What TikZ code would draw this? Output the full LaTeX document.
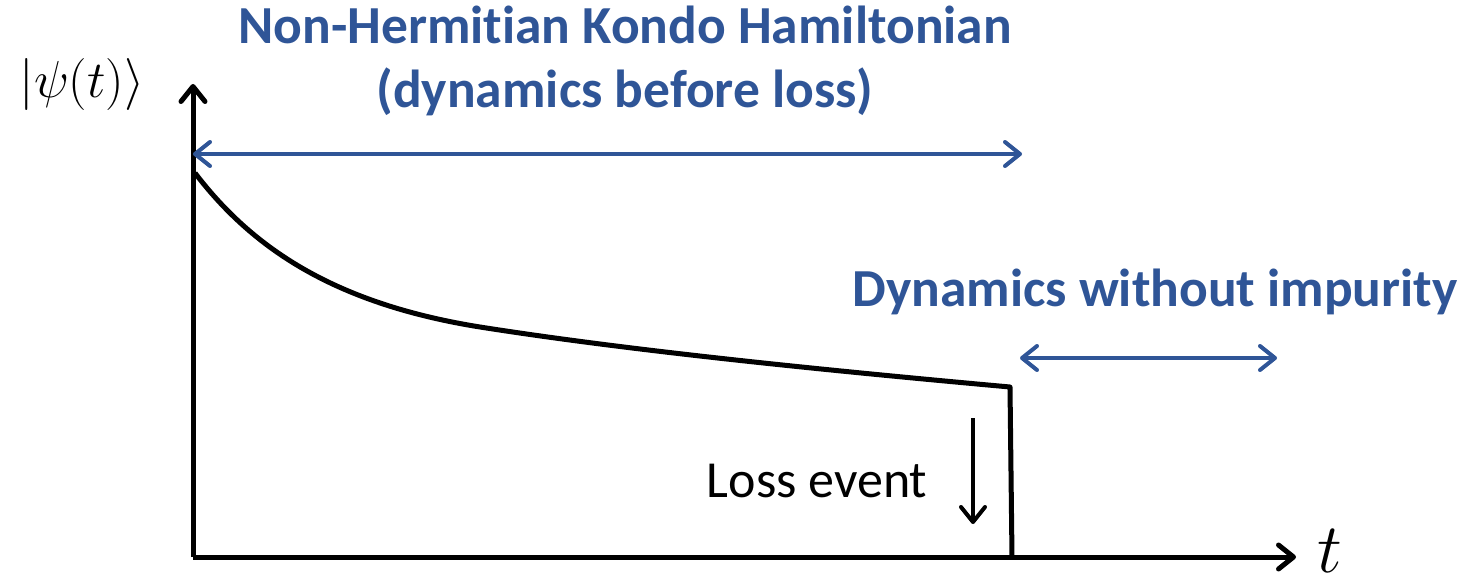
\RequirePackage{fix-cm}
\documentclass[tikz,border=0pt]{standalone}
\usepackage{fontspec}
\setmainfont{Carlito}[Ligatures=NoCommon]
\usetikzlibrary{arrows.meta,positioning}
\definecolor{lossblue}{RGB}{47,85,151}

\begin{document}
\begin{tikzpicture}[x=1pt, y=-1pt,
	thickbarb/.tip={Straight Barb[round, length=15pt, width=24pt, line width=5pt]},
	thinbarb/.tip={Straight Barb[round, length=15pt, width=24pt, line width=4pt]},
	axis/.style={line width=5pt, -thickbarb},
	span/.style={lossblue, line width=4pt, thinbarb-thinbarb},
	label/.style={lossblue, font=\fontsize{53.5}{64}\selectfont\bfseries, inner sep=0pt, anchor=base}]
	\useasboundingbox (0,0) rectangle (1462,583);
	% axes
	\coordinate (O) at (193,557);
	\coordinate (ytip) at (193,84);
	\coordinate (xtip) at (1296,557);
	\draw[axis] (O) -- (ytip);
	\draw[axis] (O) -- (xtip);
	\node[inner sep=0pt, anchor=base] (psi) at (82,98) {\fontsize{52}{60}\selectfont$|\psi(t)\rangle$};
	\node[inner sep=0pt, anchor=base] (t) at (1330,572) {\fontsize{70}{80}\selectfont$t$};
	% wave function before and after loss
	\coordinate (start) at (195,173);
	\coordinate (mid) at (480,327);
	\coordinate (jump) at (1010,387);
	\coordinate (drop) at (1012,557);
	\draw[line width=5pt, line join=round] (start) .. controls (250,245) and (330,303) .. (mid)
		.. controls (620,349) and (800,368) .. (jump) -- (drop);
	% loss event
	\coordinate (lossA) at (973,418);
	\coordinate (lossB) at (973,524);
	\draw[line width=4pt, -thinbarb] (lossA) -- (lossB);
	\node[inner sep=0pt, font=\fontsize{52}{60}\selectfont, anchor=base] (loss) at (817,497) {Loss event};
	% regimes
	\coordinate (nhA) at (193,154);
	\coordinate (nhB) at (1022,154);
	\draw[span] (nhA) -- (nhB);
	\node[label] (nh) at (625,44) {Non-Hermitian Kondo Hamiltonian};
	\node[label] (nhsub) at (625,108) {(dynamics before loss)};
	\coordinate (freeA) at (1020,358);
	\coordinate (freeB) at (1277,358);
	\draw[span] (freeA) -- (freeB);
	\node[label] (free) at (1155,306) {Dynamics without impurity};
\end{tikzpicture}
\end{document}
